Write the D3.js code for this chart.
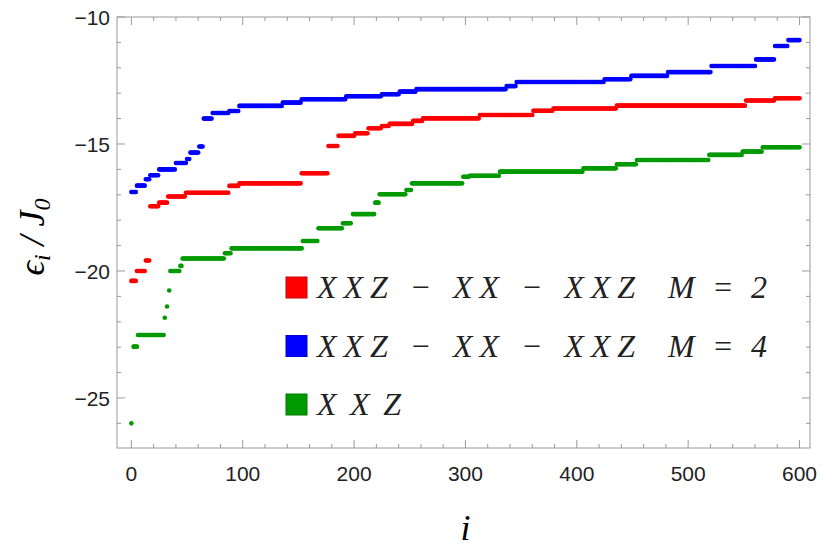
<!DOCTYPE html>
<html><head><meta charset="utf-8">
<script src="https://cdn.jsdelivr.net/npm/d3@7"></script>
<style>body{margin:0;background:#fff}</style>
</head><body>
<svg id="chart" width="822" height="560"></svg>
<script>
// runs of eigenvalues: [first index, last index (exclusive), value]
const redRuns = [[0,5,-20.39],[5,13,-20.0],[13,17,-19.59],[17,25,-17.45],[25,33,-17.31],[33,49,-17.07],[49,88,-16.92],[88,97,-16.65],[97,153,-16.55],[153,177,-16.15],[177,186,-15.08],[186,201,-14.68],[201,213,-14.58],[213,225,-14.38],[225,232,-14.29],[232,253,-14.21],[253,262,-14.09],[262,313,-13.99],[313,361,-13.86],[361,379,-13.69],[379,436,-13.6],[436,552,-13.49],[552,578,-13.29],[578,601,-13.2]];
const blueRuns = [[0,5,-16.89],[5,13,-16.64],[13,17,-16.39],[17,25,-16.23],[25,40,-16.0],[40,50,-15.75],[50,53,-15.59],[53,61,-15.34],[61,65,-15.1],[65,73,-14.0],[73,88,-13.78],[88,97,-13.7],[97,136,-13.5],[136,153,-13.37],[153,193,-13.24],[193,225,-13.12],[225,241,-13.04],[241,256,-12.94],[256,337,-12.84],[337,346,-12.72],[346,425,-12.56],[425,449,-12.45],[449,482,-12.32],[482,521,-12.17],[521,561,-11.93],[561,578,-11.67],[578,590,-11.14],[590,601,-10.91]];
const greenRuns = [[0,1,-26.0],[2,6,-22.98],[6,30,-22.52],[30,31,-21.84],[32,33,-21.4],[34,35,-20.77],[35,44,-20.0],[44,46,-19.8],[46,84,-19.51],[84,90,-19.3],[90,154,-19.11],[154,168,-18.82],[168,190,-18.32],[190,198,-18.12],[199,219,-17.76],[219,223,-17.31],[223,247,-16.98],[247,252,-16.81],[252,298,-16.55],[298,304,-16.29],[304,331,-16.25],[331,406,-16.09],[406,436,-15.96],[436,454,-15.8],[454,519,-15.63],[519,549,-15.43],[549,567,-15.3],[567,601,-15.13]];
const xTicks = [0,100,200,300,400,500,600];
const yTicks = [-25,-20,-15,-10];
const legendModels = ["XXZ \u2212 XX \u2212 XXZ","XXZ \u2212 XX \u2212 XXZ","XXZ"];
const legendM = ["M = 2","M = 4",""];
const colors = ["#ff0000","#0000ff","#009900"];

const expand = runs => runs.flatMap(([a,b,v]) => d3.range(a,b).map(i => ({i, v})));
const series = [redRuns, blueRuns, greenRuns].map(expand);

const svg = d3.select('#chart');
const L = 117, R = 810, T = 17, B = 448;
const x = d3.scaleLinear().domain([-12.9, 609.4]).range([L, R]);
const y = d3.scaleLinear().domain([-26.97, -10]).range([B, T]);

const frame = '#999';
svg.append('rect').attr('x', L).attr('y', T).attr('width', R - L).attr('height', B - T)
  .attr('fill', 'none').attr('stroke', frame);

// ticks pointing inward
const g = svg.append('g').attr('stroke', frame);
d3.range(0, 601, 20).forEach(t => {
  const len = t % 100 === 0 ? 8 : 4;
  g.append('line').attr('x1', x(t)).attr('x2', x(t)).attr('y1', B).attr('y2', B - len);
  g.append('line').attr('x1', x(t)).attr('x2', x(t)).attr('y1', T).attr('y2', T + len);
});
d3.range(-26, -9, 1).forEach(t => {
  const len = t % 5 === 0 ? 8 : 4;
  g.append('line').attr('y1', y(t)).attr('y2', y(t)).attr('x1', L).attr('x2', L + len);
  g.append('line').attr('y1', y(t)).attr('y2', y(t)).attr('x1', R).attr('x2', R - len);
});

const lab = svg.append('g').attr('font-family', 'Liberation Sans, Arial, sans-serif')
  .attr('font-size', 21).attr('fill', '#222');
xTicks.forEach(t => lab.append('text').attr('x', x(t)).attr('y', B + 33)
  .attr('text-anchor', 'middle').text(t));
yTicks.forEach(t => lab.append('text').attr('x', L - 7).attr('y', y(t) + 8)
  .attr('text-anchor', 'end').text(d3.format('')(t).replace('-', '\u2212')));

// points
series.forEach((pts, k) => {
  svg.append('g').attr('fill', colors[k]).selectAll('circle').data(pts).join('circle')
    .attr('cx', d => x(d.i)).attr('cy', d => y(d.v)).attr('r', 2.3);
});

// legend
const serif = 'Liberation Serif, DejaVu Serif, serif';
legendModels.forEach((t, k) => {
  const base = 298 + k * 58.5;
  svg.append('rect').attr('x', 286).attr('y', base - 21).attr('width', 21).attr('height', 21)
    .attr('fill', colors[k]).attr('stroke', d3.color(colors[k]).darker(0.6));
  svg.append('text').attr('x', 317).attr('y', base).attr('font-family', serif)
    .attr('font-style', 'italic').attr('font-size', 32).attr('fill', '#222')
    .attr('textLength', k < 2 ? 318 : 84).attr('lengthAdjust', 'spacing').text(t);
  if (legendM[k]) svg.append('text').attr('x', 668).attr('y', base).attr('font-family', serif)
    .attr('font-style', 'italic').attr('font-size', 32).attr('fill', '#222')
    .attr('textLength', 99).attr('lengthAdjust', 'spacing').text(legendM[k]);
});

// axis titles
svg.append('text').attr('x', x(300)).attr('y', 540).attr('font-family', serif)
  .attr('font-style', 'italic').attr('font-size', 36).attr('text-anchor', 'middle').text('i');
const yl = svg.append('text').attr('transform', `translate(44,237) rotate(-90)`)
  .attr('font-family', serif).attr('font-style', 'italic').attr('font-size', 36)
  .attr('text-anchor', 'middle');
yl.append('tspan').text('\u03f5');
yl.append('tspan').attr('font-size', 24).attr('dy', 6).text('i');
yl.append('tspan').attr('dy', -6).text(' / J');
yl.append('tspan').attr('font-size', 24).attr('dy', 6).text('0');
</script>
</body></html>
